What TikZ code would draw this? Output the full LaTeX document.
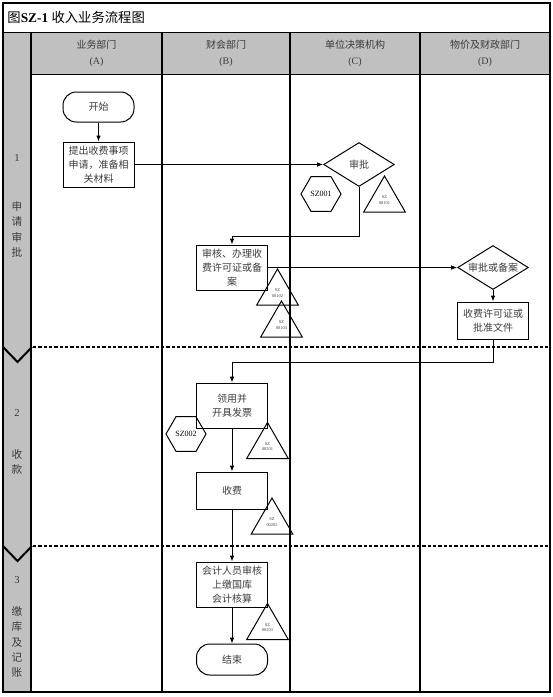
\documentclass[tikz,border=0pt]{standalone}
\usepackage{fontspec}
\setmainfont{Liberation Serif}
\newfontfamily\cjk{Noto Sans CJK SC}
\usetikzlibrary{shapes.geometric,arrows.meta}

\definecolor{lanegray}{RGB}{192,192,192}
\definecolor{txtgray}{RGB}{60,60,60}

\tikzset{every picture/.style={line width=0.75pt}}
\tikzset{
  flowbox/.style={draw, rectangle, minimum width=53.25pt, inner sep=0.75pt, align=center, font=\cjk\fontsize{7.5}{10.5}\selectfont, text=txtgray},
  termbox/.style={flowbox, rounded corners=10pt, minimum height=22.5pt},
  decision/.style={draw, diamond, aspect=1.6, inner sep=0pt, minimum width=53pt, minimum height=33pt, font=\cjk\fontsize{7.5}{10.5}\selectfont, text=txtgray},
  hexmark/.style={draw, regular polygon, regular polygon sides=6, minimum size=30pt, inner sep=0pt, font=\fontsize{6}{7}\selectfont},
  trimark/.style={draw, regular polygon, regular polygon sides=3, minimum size=36pt, inner sep=0pt, align=center, font=\fontsize{3.3}{4.2}\selectfont, text=txtgray},
  headtxt/.style={align=center, inner sep=0.75pt, font=\fontsize{7.5}{12}\selectfont, text=txtgray},
  phasetxt/.style={align=center, inner sep=0.75pt, font=\cjk\fontsize{8}{11.5}\selectfont, text=txtgray},
  phasenum/.style={inner sep=0.75pt, font=\fontsize{8}{10}\selectfont, text=txtgray},
  flow/.style={-{Latex[length=4.5pt,width=3.5pt]}},
  phasesep/.style={line width=1.5, dash pattern=on 2.5pt off 1.5pt},
}

\begin{document}
\begin{tikzpicture}[x=0.75pt,y=0.75pt,yscale=-1,xscale=1]
\useasboundingbox (0,0) rectangle (553,697);

%Shape: gray header and phase column
\fill[lanegray] (3,32) rectangle (550,74);
\fill[lanegray] (3,74) rectangle (31,692);
%Straight Lines: frame and lanes
\draw[line width=1.5] (3,3) rectangle (550,692);
\draw (3,32) -- (550,32);
\draw (31,74) -- (550,74);
\draw[line width=2] (31,32) -- (31,692);
\foreach \x in {162,290,420} \draw[line width=1.25] (\x,32) -- (\x,692);
%Straight Lines: phase separators
\draw[phasesep] (33,347) -- (550,347);
\draw[phasesep] (33,546) -- (550,546);
\draw[line width=1.5] (3,347) -- (17.5,362) -- (32,347);
\draw[line width=1.5] (3,546) -- (17.5,561) -- (32,546);

% Text Node: title
\node[anchor=west, inner sep=0.75pt, font=\fontsize{10}{12}\selectfont] (title) at (6,17) {{\cjk 图}\textbf{SZ-1} {\cjk 收入业务流程图}};
% Text Node: lane heads
\node[headtxt] (laneA) at (96.5,53) {{\cjk 业务部门}\\(A)};
\node[headtxt] (laneB) at (226,53) {{\cjk 财会部门}\\(B)};
\node[headtxt] (laneC) at (355,53) {{\cjk 单位决策机构}\\(C)};
\node[headtxt] (laneD) at (485,53) {{\cjk 物价及财政部门}\\(D)};
% Text Node: phases
\node[phasenum] (ph1num) at (17,158) {1};
\node[phasetxt] (ph1txt) at (17,229.5) {申\\请\\审\\批};
\node[phasenum] (ph2num) at (17,413) {2};
\node[phasetxt] (ph2txt) at (17,462) {收\\款};
\node[phasenum] (ph3num) at (17,580) {3};
\node[phasetxt] (ph3txt) at (17,642) {缴\\库\\及\\记\\账};

% Flow nodes: phase 1
\node[termbox] (start) at (98.5,107) {开始};
\node[flowbox, minimum height=33.75pt] (apply) at (98.5,164.5) {提出收费事项\\申请，准备相\\关材料};
\node[decision] (approve) at (359,164.5) {审批};
\node[hexmark] (sz1) at (321,194) {SZ001};
\node[trimark] (t101) at (384.5,200) {SZ\\00101};
\coordinate (bend1) at (359,236);
\node[flowbox, minimum height=33.75pt] (review) at (232,267.5) {审核、办理收\\费许可证或备\\案};
\node[trimark] (t102) at (277.5,293) {SZ\\00102};
\node[trimark] (t103) at (281.5,325) {SZ\\00103};
\node[decision] (filing) at (493,267.5) {审批或备案};
\node[flowbox, minimum height=27.75pt] (permit) at (493,320.5) {收费许可证或\\批准文件};
\coordinate (bend2) at (493,362);
% Flow nodes: phase 2
\node[flowbox, minimum height=33.75pt] (invoice) at (232,405.5) {领用并\\开具发票};
\node[hexmark] (sz2) at (186,434) {SZ002};
\node[trimark] (t201) at (267.5,446.5) {SZ\\00201};
\node[flowbox, minimum height=27.75pt] (fee) at (232,490.5) {收费};
\node[trimark] (t202) at (272,522) {SZ\\00202};
% Flow nodes: phase 3
\node[flowbox, minimum height=33.75pt] (account) at (232,584.5) {会计人员审核\\上缴国库\\会计核算};
\node[trimark] (t203) at (267.5,627.5) {SZ\\00203};
\node[termbox, minimum height=23.25pt] (finish) at (232,659.5) {结束};

% Connectors
\draw[flow] (start) -- (apply);
\draw[flow] (apply.east) -- (approve.west);
\draw[flow] (approve.south) -- (bend1) -| (review.north);
\draw[flow] (review.east) -- (filing.west);
\draw[flow] (filing.south) -- (permit.north);
\draw[flow] (permit.south) -- (bend2) -| (invoice.north);
\draw[flow] (invoice) -- (fee);
\draw[flow] (fee) -- (account);
\draw[flow] (account) -- (finish);

\end{tikzpicture}
\end{document}
